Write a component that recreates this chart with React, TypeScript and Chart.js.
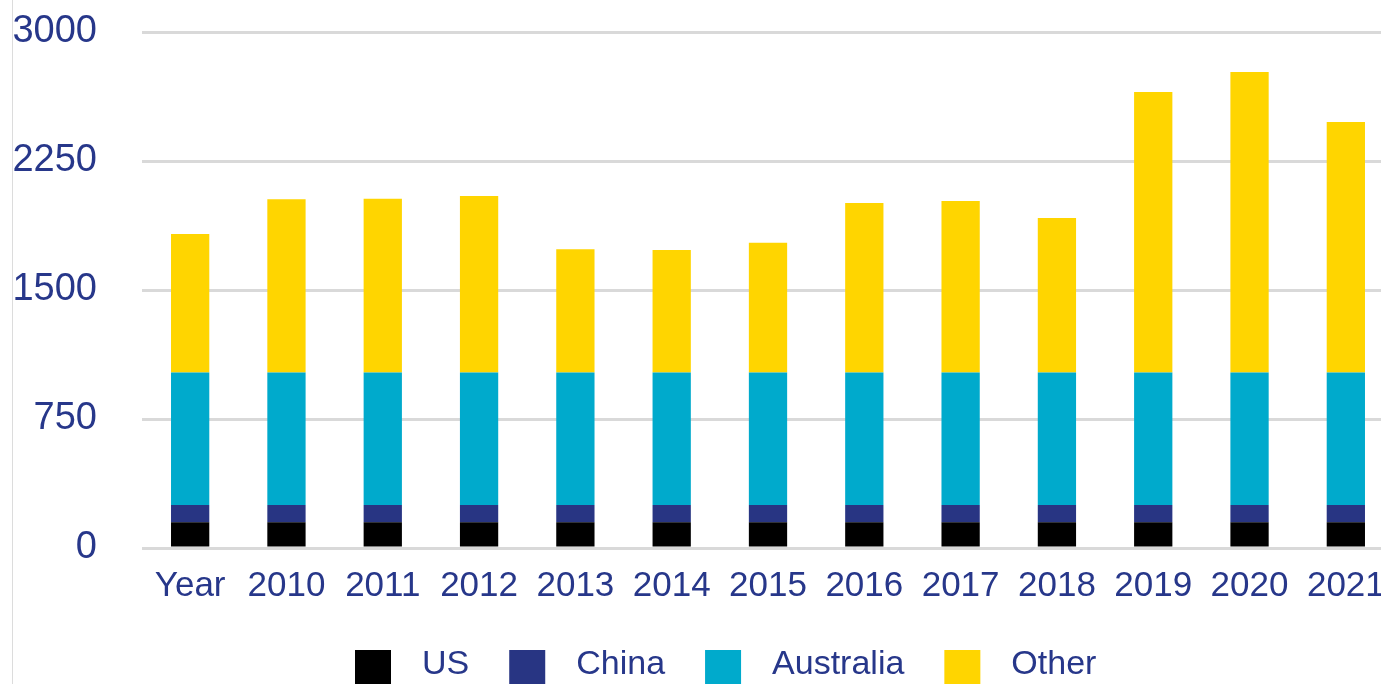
import React, { useEffect, useRef } from "react";
import { Chart, registerables } from "chart.js";

Chart.register(...registerables);

const categories = ["Year", "2010", "2011", "2012", "2013", "2014", "2015", "2016", "2017", "2018", "2019", "2020", "2021"];
const usValues = [150, 150, 150, 150, 150, 150, 150, 150, 150, 150, 150, 150, 150];
const chinaValues = [100, 100, 100, 100, 100, 100, 100, 100, 100, 100, 100, 100, 100];
const australiaValues = [770, 770, 770, 770, 770, 770, 770, 770, 770, 770, 770, 770, 770];
const otherValues = [806, 1007, 1011, 1027, 717, 713, 755, 986, 997, 899, 1631, 1747, 1457];
const seriesNames = ["US", "China", "Australia", "Other"];
const seriesColors = ["#000000", "#283583", "#00AACC", "#FFD500"];
const yMin = 0;
const yMax = 3000;
const yStep = 750;

const TEXT = "#27378a";
const FONT = "'Liberation Sans', Arial, sans-serif";

const legendPlugin = {
  id: "customLegend",
  afterDraw(chart: any) {
    const ctx = chart.ctx;
    ctx.save();
    ctx.font = `34px ${FONT}`;
    ctx.textBaseline = "alphabetic";
    ctx.textAlign = "left";
    let x = 355;
    chart.data.datasets.forEach((ds: any) => {
      ctx.fillStyle = ds.backgroundColor;
      ctx.fillRect(x, 650, 36, 44);
      const tx = x + 36 + 31;
      ctx.fillStyle = TEXT;
      ctx.fillText(ds.label, tx, 674);
      x = tx + ctx.measureText(ds.label).width + 40;
    });
    ctx.restore();
  },
};

export default function App() {
  const ref = useRef<HTMLCanvasElement | null>(null);

  useEffect(() => {
    if (!ref.current) return;
    const values = [usValues, chinaValues, australiaValues, otherValues];
    const chart = new Chart(ref.current, {
      type: "bar",
      data: {
        labels: categories,
        datasets: seriesNames.map((name, i) => ({
          label: name,
          data: values[i],
          backgroundColor: seriesColors[i],
          borderWidth: 0,
          barPercentage: 0.3975,
          categoryPercentage: 1,
        })),
      },
      options: {
        responsive: false,
        animation: false,
        layout: { padding: { top: 32, left: 0, right: 6, bottom: 112 } },
        plugins: {
          legend: { display: false },
          tooltip: { enabled: false },
        },
        scales: {
          x: {
            stacked: true,
            grid: { display: false, drawTicks: false },
            border: { display: false },
            ticks: {
              color: TEXT,
              font: { family: FONT, size: 35, lineHeight: 1 },
              padding: 21,
              maxRotation: 0,
              autoSkip: false,
            },
            afterFit(scale: any) {
              scale.height = 60;
              scale.paddingLeft = 0;
              scale.paddingRight = 0;
            },
          },
          y: {
            stacked: true,
            min: yMin,
            max: yMax,
            grid: { color: "#d9d9d9", lineWidth: 3, drawTicks: false },
            border: { display: false },
            ticks: {
              stepSize: yStep,
              color: TEXT,
              font: { family: FONT, size: 38, lineHeight: 1 },
              padding: 45,
              callback: (v: any) => String(v),
            },
            afterFit(scale: any) {
              scale.width = 142;
              scale.paddingTop = 0;
              scale.paddingBottom = 0;
            },
          },
        },
      },
      plugins: [legendPlugin],
    });
    return () => chart.destroy();
  }, []);

  return (
    <div
      style={{
        position: "fixed",
        left: 0,
        top: 0,
        width: 1381,
        height: 684,
        overflow: "hidden",
        background: "#ffffff",
      }}
    >
      <div
        style={{
          position: "absolute",
          left: 12,
          top: 0,
          width: 1,
          height: 684,
          background: "#dcdcdc",
        }}
      />
      <canvas
        ref={ref}
        width={1400}
        height={720}
        style={{ position: "absolute", left: 0, top: 0, width: 1400, height: 720 }}
      />
    </div>
  );
}
